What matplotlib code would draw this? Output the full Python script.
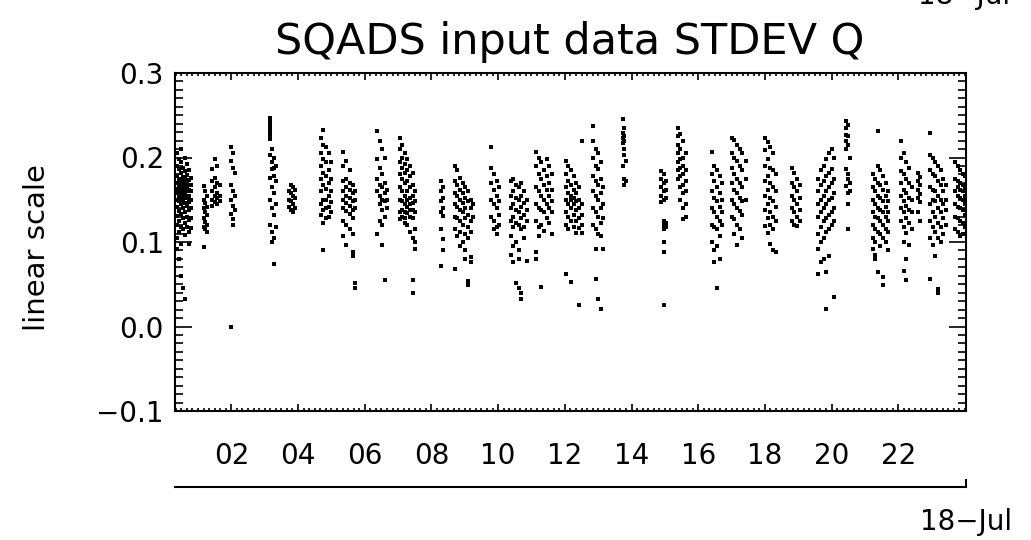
import numpy as np
import matplotlib
matplotlib.use("Agg")
import matplotlib.pyplot as plt
from matplotlib.ticker import FixedLocator, MultipleLocator

col_hours = [
    0.36, 0.42, 0.48, 0.54, 0.60, 0.66, 0.72, 0.78,
    1.18, 1.22, 1.28, 1.42, 1.50, 1.58, 1.66,
    1.98, 2.05, 2.10,
    3.17, 3.22, 3.28, 3.34, 3.72, 3.78, 3.85, 3.92,
    4.70, 4.76, 4.84, 4.92, 5.00,
    5.35, 5.45, 5.55, 5.65, 5.72,
    6.38, 6.45, 6.52, 6.60, 6.68,
    7.05, 7.12, 7.20, 7.28, 7.36, 7.44, 7.52,
    8.28, 8.36,
    8.70, 8.78, 8.86, 8.94, 9.02, 9.10, 9.18, 9.25,
    9.80, 9.88, 9.96, 10.04,
    10.38, 10.46, 10.54, 10.62, 10.70, 10.78, 10.86,
    11.14, 11.22, 11.30, 11.38, 11.46, 11.54, 11.62,
    12.04, 12.10, 12.18, 12.26, 12.34, 12.42, 12.50,
    12.85, 12.92, 13.00, 13.08, 13.15,
    13.74, 13.78, 13.82,
    14.88, 14.96, 15.04,
    15.38, 15.46, 15.54, 15.62,
    16.40, 16.48, 16.56, 16.64, 16.70,
    17.00, 17.08, 17.16, 17.24, 17.32, 17.42,
    18.00, 18.08, 18.16, 18.24, 18.32,
    18.80, 18.88, 18.96, 19.04,
    19.60, 19.68, 19.76, 19.84, 19.92, 20.00, 20.08,
    20.44, 20.50, 20.56,
    21.24, 21.30, 21.38, 21.46, 21.54, 21.62, 21.70,
    22.08, 22.16, 22.24, 22.32, 22.40,
    22.58, 22.64,
    22.95, 23.03, 23.11, 23.19, 23.27, 23.35, 23.43,
    23.70, 23.78, 23.86, 23.94, 24.00,
]
col_values = [
    [205, 190, 178, 170, 163, 158, 150, 142, 131, 120, 105, 92],
    [198, 186, 175, 168, 165, 160, 155, 148, 137, 125, 112, 80],
    [210, 195, 182, 172, 167, 162, 157, 152, 145, 133, 118, 98, 60],
    [188, 177, 171, 166, 161, 156, 150, 140, 128, 115, 45],
    [200, 184, 174, 169, 164, 159, 154, 146, 136, 122, 108, 33],
    [192, 179, 170, 165, 160, 152, 143, 130, 118],
    [185, 173, 167, 162, 155, 147, 138, 126, 112, 98],
    [176, 168, 160, 150, 140, 128, 116],
    [166, 150, 140, 128, 118, 94],
    [160, 146, 136, 124, 115],
    [155, 142, 132, 120, 112],
    [186, 172, 160, 150, 143],
    [198, 176, 165, 155, 147],
    [190, 170, 158, 152, 145],
    [168, 155, 148],
    [213, 196, 168, 150, 133, 0],
    [205, 188, 160, 143, 127, 120],
    [182, 155, 138],
    [247, 242, 238, 234, 230, 226, 222, 203, 176, 150, 120],
    [210, 195, 186, 165, 140, 112, 100],
    [200, 188, 178, 158, 132, 105, 74],
    [190, 172, 145, 118],
    [160, 150, 142],
    [168, 158, 148, 138],
    [165, 155, 145, 135],
    [162, 152, 140],
    [223, 205, 190, 175, 160, 145, 132],
    [233, 215, 198, 182, 168, 150, 138, 123, 90],
    [212, 195, 178, 163, 150, 140, 128],
    [205, 185, 170, 155, 142, 130],
    [195, 175, 160, 147, 135],
    [207, 190, 172, 160, 150, 140, 125, 107],
    [196, 174, 165, 155, 146, 137, 120, 96],
    [185, 170, 162, 152, 143, 133, 115],
    [168, 158, 148, 138, 128, 110, 88, 84],
    [160, 150, 140, 52, 45],
    [231, 198, 174, 160, 110],
    [219, 188, 168, 155, 145, 125],
    [210, 180, 165, 150, 138, 120, 96],
    [200, 170, 158, 148, 130, 55],
    [162, 150, 140],
    [223, 210, 195, 180, 165, 150, 135, 127],
    [215, 200, 188, 175, 160, 148, 138, 130],
    [205, 192, 182, 170, 155, 145, 135, 128, 123],
    [198, 185, 172, 160, 150, 142, 134, 120],
    [190, 178, 165, 152, 145, 138, 130, 112],
    [182, 168, 155, 146, 138, 128, 105, 55, 40],
    [160, 148, 135, 115, 100, 92],
    [172, 160, 148, 135, 115, 72],
    [165, 152, 140, 131, 103, 90],
    [190, 172, 158, 145, 130, 115, 68],
    [185, 168, 155, 142, 128, 107],
    [176, 162, 150, 138, 125, 112, 95],
    [170, 158, 146, 135, 120, 100],
    [165, 152, 140, 128, 110, 90, 80],
    [160, 148, 132, 118, 105, 54, 49],
    [150, 140, 125, 112, 82, 76],
    [145, 130],
    [213, 188, 170, 150, 130],
    [180, 162, 145, 125, 115],
    [172, 155, 140, 118, 109],
    [165, 148, 132, 120],
    [172, 155, 140, 125, 107, 85],
    [174, 160, 145, 130, 118, 95, 76],
    [168, 152, 138, 122, 100, 52],
    [165, 150, 135, 120, 90, 80, 45],
    [170, 155, 142, 128, 115, 40, 33],
    [160, 146, 132, 118, 105],
    [150, 138, 125, 78],
    [207, 190, 165, 145, 125, 88, 80],
    [200, 180, 160, 140, 118, 107],
    [195, 175, 155, 138, 120, 47],
    [185, 168, 150, 135, 113],
    [198, 178, 162, 145, 128],
    [190, 170, 155, 140, 122],
    [180, 162, 148, 135, 110],
    [196, 180, 165, 150, 135, 120, 62],
    [190, 172, 158, 145, 130, 115],
    [185, 168, 155, 150, 140, 125, 53],
    [178, 162, 152, 145, 132, 118],
    [170, 158, 148, 138, 125, 111],
    [165, 150, 140, 128, 116, 25],
    [219, 145, 132, 120, 111],
    [237, 219, 200, 178, 160, 140, 120],
    [210, 190, 172, 155, 135, 115, 92, 56],
    [205, 186, 168, 150, 130, 110, 33],
    [195, 175, 158, 140, 122, 107, 21],
    [165, 145, 128, 92],
    [245, 229, 223, 217, 190],
    [235, 226, 220, 210, 203, 174, 168],
    [196, 172],
    [184, 175, 165, 155, 147],
    [180, 170, 160, 150, 125, 120, 115, 100, 88, 25],
    [172, 162, 152, 122, 118],
    [235, 225, 215, 205, 195, 185, 175],
    [228, 210, 198, 188, 178, 165, 150],
    [220, 200, 190, 180, 168, 158, 140, 127],
    [205, 185, 172, 160, 145, 130],
    [207, 180, 160, 140, 120, 100],
    [190, 172, 152, 135, 118, 90, 76],
    [185, 165, 148, 130, 115, 95, 45],
    [178, 158, 142, 125, 107, 80],
    [170, 150, 136, 120],
    [223, 205, 188, 170, 150, 130],
    [221, 200, 180, 162, 145, 127, 110],
    [215, 196, 175, 158, 140, 120, 96],
    [210, 190, 170, 152, 137, 115],
    [205, 185, 165, 148, 132, 105],
    [196, 175, 150],
    [223, 209, 190, 172, 155, 138, 119],
    [218, 198, 178, 162, 145, 128, 111],
    [212, 188, 170, 152, 135, 120, 98],
    [205, 185, 165, 148, 130, 115, 90],
    [180, 160, 142, 125, 88],
    [188, 170, 155, 140, 125],
    [182, 165, 150, 135, 120],
    [175, 160, 145, 130, 119],
    [168, 152, 138, 125],
    [175, 160, 145, 130, 110, 92, 62],
    [185, 168, 150, 135, 118, 100, 76],
    [190, 172, 155, 140, 125, 105, 80],
    [198, 178, 160, 145, 128, 112, 64, 21],
    [205, 182, 165, 150, 132, 115, 84],
    [210, 186, 170, 152, 136, 120],
    [200, 175, 158, 140, 125, 35],
    [243, 235, 227, 219, 210, 186, 166],
    [238, 225, 215, 180, 175, 158, 145, 115],
    [200, 170, 160],
    [180, 165, 150, 135, 120, 105, 92],
    [175, 160, 145, 130, 115, 100, 85, 80],
    [231, 190, 170, 155, 140, 128, 112, 64],
    [185, 168, 152, 138, 125, 110, 95],
    [178, 162, 148, 135, 120, 105, 58, 49],
    [170, 155, 142, 130, 115, 100],
    [160, 148, 135, 125, 112, 90],
    [219, 200, 184, 170, 155, 140, 125],
    [205, 180, 162, 148, 135, 118, 100, 66],
    [195, 175, 158, 143, 128, 111, 80, 55],
    [188, 170, 152, 138, 122, 96],
    [165, 150, 135, 115],
    [182, 172, 162, 152, 135],
    [177, 167, 157, 147, 125],
    [229, 203, 185, 165, 145, 125, 105, 56],
    [200, 180, 162, 150, 135, 118, 96],
    [195, 178, 160, 148, 130, 112, 84],
    [190, 172, 155, 140, 122, 105, 44, 40],
    [185, 168, 150, 135, 118, 100],
    [175, 160, 145, 128, 110],
    [168, 150, 138, 120],
    [195, 175, 160, 145, 130, 115],
    [190, 172, 165, 155, 142, 128, 112],
    [185, 170, 162, 152, 140, 125, 107],
    [180, 168, 160, 150, 138, 122, 110],
    [178, 165, 155, 145, 132, 118],
]

hour_ticks = [2, 4, 6, 8, 10, 12, 14, 16, 18, 20, 22]
hour_labels = ['02', '04', '06', '08', '10', '12', '14', '16', '18', '20', '22']
y_ticks = [-0.1, 0.0, 0.1, 0.2, 0.3]
y_labels = ['\u22120.1', '0.0', '0.1', '0.2', '0.3']
day_label = '18\u2212Jul'

plt.rcParams['font.family'] = ['DejaVu Sans']

fig = plt.figure(figsize=(10.31, 5.40), dpi=100)
ax = fig.add_axes([175 / 1031, 1 - 411 / 540, 791 / 1031, 338 / 540])

xs = np.concatenate([[h] * len(v) for h, v in zip(col_hours, col_values)])
ys = np.concatenate([np.array(v) / 1000.0 for v in col_values])
ax.plot(xs, ys, ls='none', marker='s', ms=2.2, mew=0, color='black')

ax.set_xlim(0.31, 24.03)
ax.set_ylim(-0.1, 0.3)

ax.xaxis.set_major_locator(FixedLocator(hour_ticks))
ax.set_xticklabels(hour_labels)
ax.xaxis.set_minor_locator(MultipleLocator(1 / 6))
ax.yaxis.set_major_locator(FixedLocator(y_ticks))
ax.set_yticklabels(y_labels)
ax.yaxis.set_minor_locator(MultipleLocator(0.01))

ax.tick_params(axis='both', which='both', direction='in', top=True, right=True,
               colors='black', width=1.2)
ax.tick_params(axis='x', which='major', length=5, pad=22, labelsize=20)
ax.tick_params(axis='x', which='minor', length=2.5)
ax.tick_params(axis='y', which='major', length=12, pad=8, labelsize=20)
ax.tick_params(axis='y', which='minor', length=6)
for s in ax.spines.values():
    s.set_linewidth(1.5)

# second level of the date axis
ax.plot([0, 1], [-0.225, -0.225], transform=ax.transAxes, color='black', lw=1.5, clip_on=False)
ax.plot([1, 1], [-0.225, -0.205], transform=ax.transAxes, color='black', lw=1.5, clip_on=False)
fig.text(966 / 1031, 1 - 522 / 540, day_label, ha='center', va='center', fontsize=20)
fig.text(918 / 1031, 1 + 4 / 540, day_label, ha='left', va='center', fontsize=20)

fig.text(570 / 1031, 1 - 42 / 540, 'SQADS input data STDEV Q', ha='center', va='center', fontsize=31)
fig.text(37 / 1031, 1 - 248 / 540, 'linear scale', ha='center', va='center', rotation=90, fontsize=21)

fig.savefig('out.png', dpi=100, facecolor='white')
